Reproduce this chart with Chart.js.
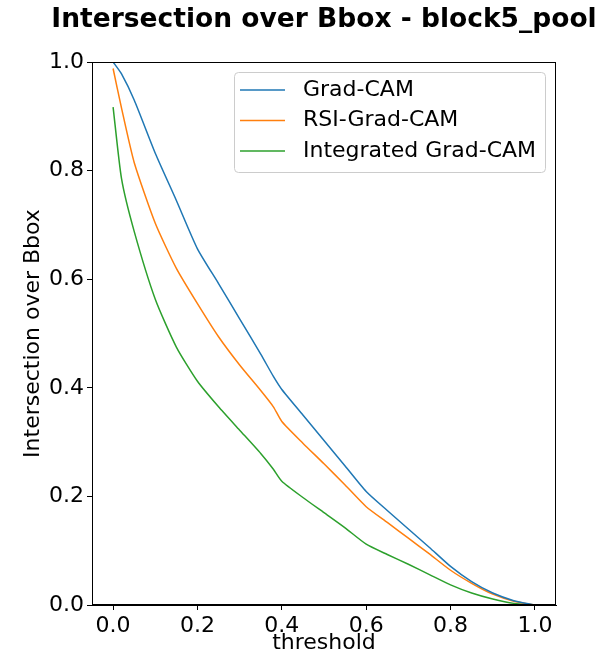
<!DOCTYPE html>
<html>
<head>
<meta charset="utf-8">
<script src="https://cdn.jsdelivr.net/npm/chart.js@4"></script>
<style>
  html, body { margin: 0; padding: 0; background: #fff; }
  #wrap { width: 604px; height: 666px; }
</style>
</head>
<body>
<div id="wrap"><canvas id="iou-chart" width="604" height="666"></canvas></div>
<script>
const thresholds = [0, 0.02, 0.05, 0.1, 0.15, 0.2, 0.25, 0.3, 0.35, 0.38, 0.4, 0.45, 0.5, 0.55, 0.6, 0.65, 0.7, 0.75, 0.8, 0.85, 0.9, 0.95, 1.0];
const gradCam = [1.0, 0.978, 0.930, 0.832, 0.745, 0.656, 0.592, 0.527, 0.462, 0.421, 0.397, 0.350, 0.303, 0.256, 0.209, 0.174, 0.140, 0.106, 0.071, 0.043, 0.022, 0.008, 0.0];
const rsiGradCam = [0.988, 0.915, 0.815, 0.703, 0.620, 0.555, 0.494, 0.442, 0.395, 0.365, 0.338, 0.298, 0.260, 0.221, 0.181, 0.152, 0.123, 0.094, 0.064, 0.040, 0.020, 0.007, 0.0];
const integratedGradCam = [0.917, 0.785, 0.688, 0.563, 0.475, 0.412, 0.365, 0.322, 0.279, 0.250, 0.228, 0.198, 0.170, 0.142, 0.112, 0.093, 0.075, 0.056, 0.037, 0.022, 0.011, 0.003, 0.0];
const xTicks = [0, 0.2, 0.4, 0.6, 0.8, 1.0];

const FONT = 'DejaVu Sans';

function toPoints(ys) {
  return thresholds.map((t, i) => ({ x: t, y: ys[i] }));
}

// title centred over the plot area, frame and legend box like matplotlib
const extras = {
  id: 'extras',
  afterDraw(chart) {
    const { ctx, chartArea: a } = chart;
    ctx.save();
    ctx.strokeStyle = '#000';
    ctx.lineWidth = 1;
    ctx.strokeRect(a.left + 0.5, a.top + 0.5, a.right - a.left - 1, a.bottom - a.top - 1);

    ctx.fillStyle = '#000';
    ctx.font = 'bold 26.5px "' + FONT + '"';
    ctx.textAlign = 'center';
    ctx.textBaseline = 'alphabetic';
    ctx.fillText('Intersection over Bbox - block5_pool', (a.left + a.right) / 2, 27);

    // legend
    const bx = a.right - 322, by = a.top + 10, bw = 311, bh = 100;
    ctx.beginPath();
    ctx.roundRect(bx + 0.5, by + 0.5, bw, bh, 4);
    ctx.fillStyle = 'rgba(255,255,255,0.8)';
    ctx.fill();
    ctx.strokeStyle = '#cccccc';
    ctx.stroke();
    ctx.font = '22px "' + FONT + '"';
    ctx.textAlign = 'left';
    ctx.textBaseline = 'middle';
    chart.data.datasets.forEach((ds, i) => {
      const y = by + 18 + i * 30.5;
      ctx.beginPath();
      ctx.moveTo(bx + 6, y);
      ctx.lineTo(bx + 51, y);
      ctx.strokeStyle = ds.borderColor;
      ctx.lineWidth = 1.5;
      ctx.stroke();
      ctx.fillStyle = '#000';
      ctx.fillText(ds.label, bx + 69, y);
    });
    ctx.restore();
  }
};

const ctx = document.getElementById('iou-chart').getContext('2d');
const chart = new Chart(ctx, {
  type: 'line',
  data: {
    datasets: [
      { label: 'Grad-CAM', data: toPoints(gradCam), borderColor: '#1f77b4' },
      { label: 'RSI-Grad-CAM', data: toPoints(rsiGradCam), borderColor: '#ff7f0e' },
      { label: 'Integrated Grad-CAM', data: toPoints(integratedGradCam), borderColor: '#2ca02c' }
    ]
  },
  options: {
    responsive: false,
    animation: false,
    devicePixelRatio: 1,
    layout: { padding: { top: 62, right: 48, left: 0, bottom: 0 } },
    elements: {
      line: { borderWidth: 1.5, tension: 0.2, fill: false },
      point: { radius: 0 }
    },
    plugins: {
      legend: { display: false },
      title: { display: false },
      tooltip: { enabled: false }
    },
    scales: {
      x: {
        type: 'linear',
        min: -0.05,
        max: 1.05,
        afterFit(scale) { scale.height = 61; },
        afterBuildTicks(scale) { scale.ticks = xTicks.map(v => ({ value: v })); },
        grid: { display: true, drawOnChartArea: false, drawTicks: true, tickLength: 5, tickColor: '#000' },
        border: { display: true, color: '#000' },
        ticks: {
          color: '#000',
          font: { family: FONT, size: 22 },
          padding: 3,
          maxRotation: 0,
          callback: v => v.toFixed(1)
        },
        title: {
          display: true,
          text: 'threshold',
          color: '#000',
          font: { family: FONT, size: 22 },
          padding: { top: 0, bottom: 10 }
        }
      },
      y: {
        type: 'linear',
        min: 0,
        max: 1,
        afterFit(scale) { scale.width = 92; },
        grid: { display: true, drawOnChartArea: false, drawTicks: true, tickLength: 5, tickColor: '#000' },
        border: { display: true, color: '#000' },
        ticks: {
          stepSize: 0.2,
          color: '#000',
          font: { family: FONT, size: 22 },
          padding: 3,
          callback: v => v.toFixed(1)
        },
        title: {
          display: true,
          text: 'Intersection over Bbox',
          color: '#000',
          font: { family: FONT, size: 22 },
          padding: { top: 20, bottom: 0 }
        }
      }
    }
  },
  plugins: [extras]
});
</script>
</body>
</html>
